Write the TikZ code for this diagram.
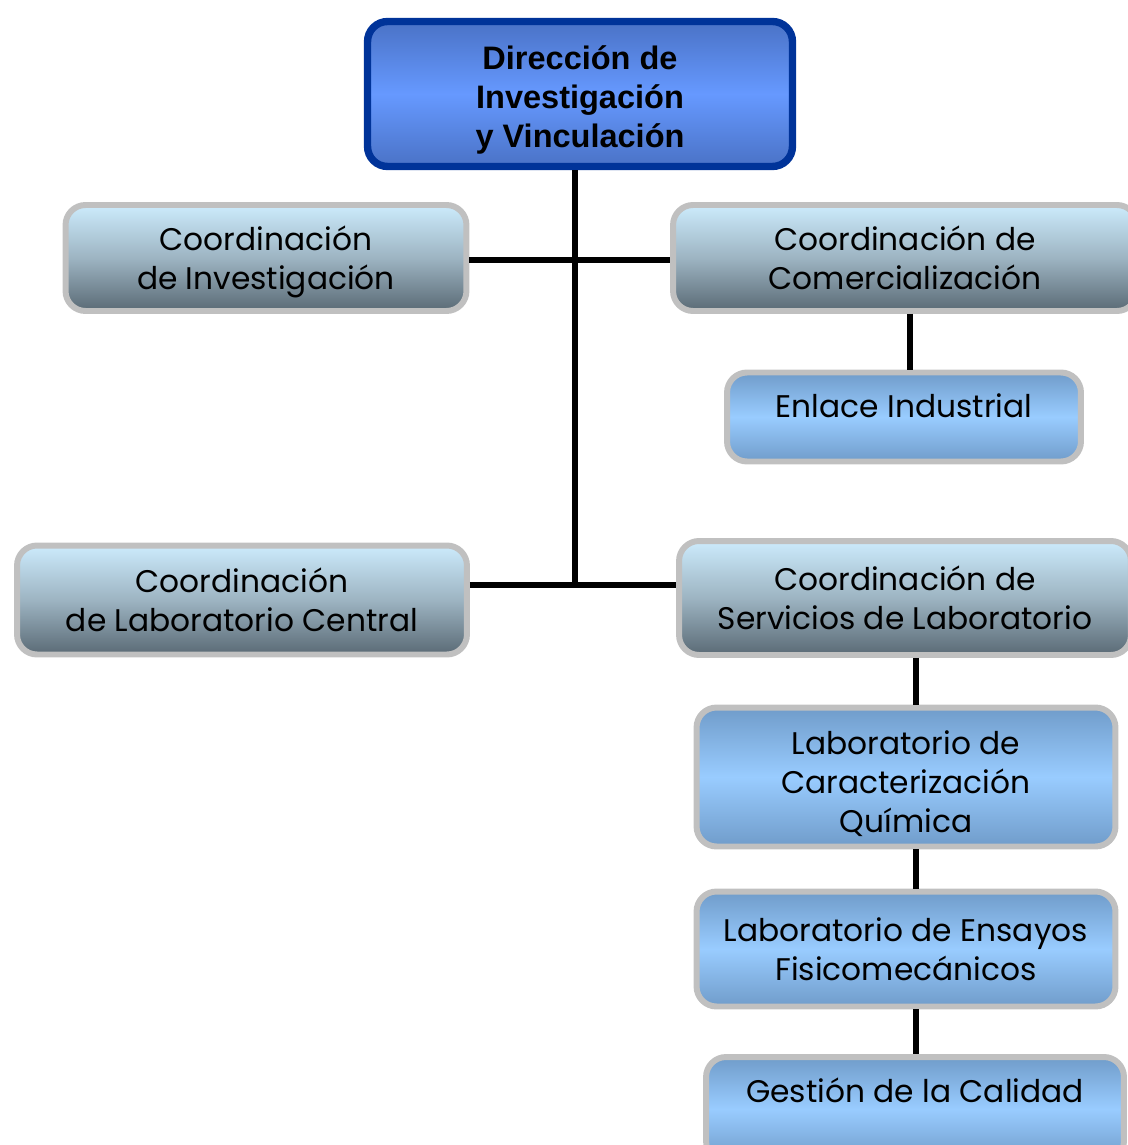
\documentclass[tikz,border=0pt]{standalone}
\usepackage{fontspec}
\newfontfamily\headfont{Liberation Sans}
\newfontfamily\gothic{Poppins}
\newcommand\pad[1]{\rule{0pt}{\dimexpr\fontcharht\font`\ó+#1\relax}}
\definecolor{boxgray}{HTML}{C0C0C0}
\definecolor{dirblue}{HTML}{003399}
\definecolor{dirtop}{HTML}{4A72C6}
\definecolor{dirmid}{HTML}{6699FF}
\definecolor{coordtop}{HTML}{CCEBFC}
\definecolor{coordmid}{HTML}{9DB4C2}
\definecolor{coordbot}{HTML}{5A6A75}
\definecolor{labedge}{HTML}{709CCA}
\definecolor{labmid}{HTML}{99CCFF}

\begin{document}
\begin{tikzpicture}[x=0.02cm, y=-0.02cm,
    orgbox/.style={draw=boxgray, line width=3.4pt, rounded corners=0.4cm, align=center, inner sep=0pt,
                   font=\gothic\fontsize{17.8}{22.2}\selectfont},
    coordbox/.style={orgbox, top color=coordtop, bottom color=coordbot, middle color=coordmid},
    labbox/.style={orgbox, top color=labedge, bottom color=labedge, middle color=labmid},
    link/.style={line width=3.6pt}]
    \useasboundingbox (0,0) rectangle (1127,1145);
    % direction
    \node[orgbox, draw=dirblue, line width=4.2pt, top color=dirtop, bottom color=dirtop, middle color=dirmid,
          font=\headfont\bfseries\fontsize{18.5}{22.2}\selectfont,
          minimum width=8.5cm, minimum height=2.9cm] (dir) at (580,94)
          {\pad{6.8pt}Dirección de\\Investigación\\y Vinculación};
    % coordinations
    \node[coordbox, minimum width=8.02cm, minimum height=2.12cm] (coordInv) at (266,258)
          {\pad{4.5pt}Coordinación\\de Investigación};
    \node[coordbox, minimum width=9.28cm, minimum height=2.12cm] (coordCom) at (905,258)
          {Coordinación de\\Comercialización};
    \node[coordbox, minimum width=9cm, minimum height=2.18cm] (coordLab) at (242,600)
          {Coordinación\\de Laboratorio Central};
    \node[coordbox, minimum width=9.04cm, minimum height=2.28cm] (coordServ) at (905,598)
          {Coordinación de\\Servicios de Laboratorio};
    % units
    \node[labbox, minimum width=7.08cm, minimum height=1.78cm, text height=0.22cm, text depth=0.2cm] (enlace) at (904,417)
          {Enlace Industrial};
    \node[labbox, minimum width=8.38cm, minimum height=2.78cm] (labCar) at (906,777)
          {\pad{7.4pt}Laboratorio de\\Caracterización\\Química};
    \node[labbox, minimum width=8.38cm, minimum height=2.3cm] (labEns) at (906,949)
          {Laboratorio de Ensayos\\Fisicomecánicos};
    \node[labbox, minimum width=8.36cm, minimum height=2.08cm, text height=0.4cm, text depth=0.66cm] (gestion) at (915,1109)
          {Gestión de la Calidad};
    % connectors
    \coordinate (j1) at (575,260);
    \coordinate (j2) at (575,585);
    \coordinate (sv) at (916,0);
    \coordinate (cv) at (910,0);
    \draw[link] (dir.south -| j1) -- (j2);
    \draw[link] (coordInv.east |- j1) -- (coordCom.west |- j1);
    \draw[link] (coordLab.east |- j2) -- (coordServ.west |- j2);
    \draw[link] (coordCom.south -| cv) -- (enlace.north -| cv);
    \draw[link] (coordServ.south -| sv) -- (labCar.north -| sv);
    \draw[link] (labCar.south -| sv) -- (labEns.north -| sv);
    \draw[link] (labEns.south -| sv) -- (gestion.north -| sv);
\end{tikzpicture}
\end{document}
